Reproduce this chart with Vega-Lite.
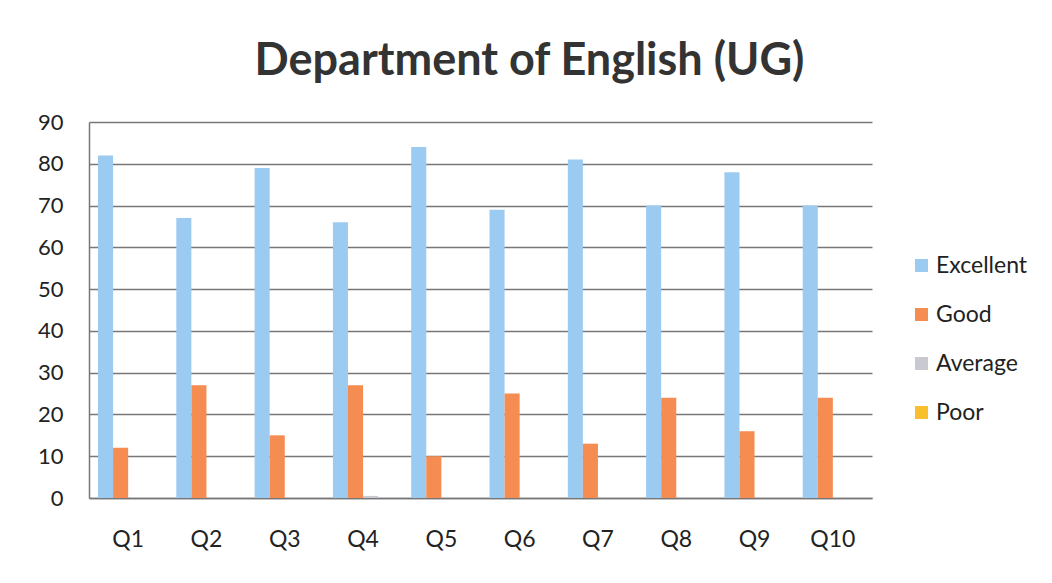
{
  "$schema": "https://vega.github.io/schema/vega-lite/v6.json",
  "width": 783,
  "height": 376,
  "autosize": {"type": "none"},
  "padding": {"left": 89, "top": 122, "right": 180, "bottom": 85},
  "background": "white",
  "title": {
    "text": "Department of English (UG)",
    "font": "Lato",
    "fontSize": 45,
    "fontWeight": "bold",
    "color": "#333333",
    "anchor": "middle",
    "dx": 49,
    "offset": 27
  },
  "data": {
    "values": [
      {"q": "Q1", "rating": "Excellent", "value": 82},
      {"q": "Q1", "rating": "Good", "value": 12},
      {"q": "Q1", "rating": "Average", "value": 0},
      {"q": "Q1", "rating": "Poor", "value": 0},
      {"q": "Q2", "rating": "Excellent", "value": 67},
      {"q": "Q2", "rating": "Good", "value": 27},
      {"q": "Q2", "rating": "Average", "value": 0},
      {"q": "Q2", "rating": "Poor", "value": 0},
      {"q": "Q3", "rating": "Excellent", "value": 79},
      {"q": "Q3", "rating": "Good", "value": 15},
      {"q": "Q3", "rating": "Average", "value": 0},
      {"q": "Q3", "rating": "Poor", "value": 0},
      {"q": "Q4", "rating": "Excellent", "value": 66},
      {"q": "Q4", "rating": "Good", "value": 27},
      {"q": "Q4", "rating": "Average", "value": 0.5},
      {"q": "Q4", "rating": "Poor", "value": 0},
      {"q": "Q5", "rating": "Excellent", "value": 84},
      {"q": "Q5", "rating": "Good", "value": 10},
      {"q": "Q5", "rating": "Average", "value": 0},
      {"q": "Q5", "rating": "Poor", "value": 0},
      {"q": "Q6", "rating": "Excellent", "value": 69},
      {"q": "Q6", "rating": "Good", "value": 25},
      {"q": "Q6", "rating": "Average", "value": 0},
      {"q": "Q6", "rating": "Poor", "value": 0},
      {"q": "Q7", "rating": "Excellent", "value": 81},
      {"q": "Q7", "rating": "Good", "value": 13},
      {"q": "Q7", "rating": "Average", "value": 0},
      {"q": "Q7", "rating": "Poor", "value": 0},
      {"q": "Q8", "rating": "Excellent", "value": 70},
      {"q": "Q8", "rating": "Good", "value": 24},
      {"q": "Q8", "rating": "Average", "value": 0},
      {"q": "Q8", "rating": "Poor", "value": 0},
      {"q": "Q9", "rating": "Excellent", "value": 78},
      {"q": "Q9", "rating": "Good", "value": 16},
      {"q": "Q9", "rating": "Average", "value": 0},
      {"q": "Q9", "rating": "Poor", "value": 0},
      {"q": "Q10", "rating": "Excellent", "value": 70},
      {"q": "Q10", "rating": "Good", "value": 24},
      {"q": "Q10", "rating": "Average", "value": 0},
      {"q": "Q10", "rating": "Poor", "value": 0}
    ]
  },
  "mark": {"type": "bar"},
  "encoding": {
    "x": {
      "field": "q",
      "type": "nominal",
      "sort": null,
      "title": null,
      "scale": {"paddingInner": 0.23, "paddingOuter": 0.115},
      "axis": {
        "labelAngle": 0,
        "labelFont": "Lato",
        "labelFontSize": 23,
        "labelColor": "#222222",
        "labelPadding": 30,
        "ticks": false,
        "domain": true,
        "domainColor": "#777777",
        "domainWidth": 1.5
      }
    },
    "xOffset": {
      "field": "rating",
      "type": "nominal",
      "sort": ["Excellent", "Good", "Average", "Poor"],
      "scale": {"paddingInner": 0, "paddingOuter": 0}
    },
    "y": {
      "field": "value",
      "type": "quantitative",
      "title": null,
      "scale": {"domain": [0, 90], "nice": false},
      "axis": {
        "values": [0, 10, 20, 30, 40, 50, 60, 70, 80, 90],
        "labelFont": "Lato",
        "labelFontSize": 22,
        "labelColor": "#222222",
        "labelPadding": 26,
        "ticks": false,
        "domain": true,
        "domainColor": "#777777",
        "domainWidth": 1.5,
        "grid": true,
        "gridColor": "#777777",
        "gridWidth": 1.5
      }
    },
    "color": {
      "field": "rating",
      "type": "nominal",
      "sort": ["Excellent", "Good", "Average", "Poor"],
      "scale": {
        "domain": ["Excellent", "Good", "Average", "Poor"],
        "range": ["#9CCBF2", "#F58D52", "#C9C9D1", "#F9C02E"]
      },
      "legend": {
        "title": null,
        "orient": "none",
        "legendX": 821,
        "legendY": 132,
        "symbolType": "square",
        "symbolSize": 169,
        "labelFont": "Lato",
        "labelFontSize": 23,
        "labelColor": "#222222",
        "labelOffset": 3,
        "rowPadding": 25
      }
    }
  },
  "config": {
    "view": {"stroke": null}
  }
}
